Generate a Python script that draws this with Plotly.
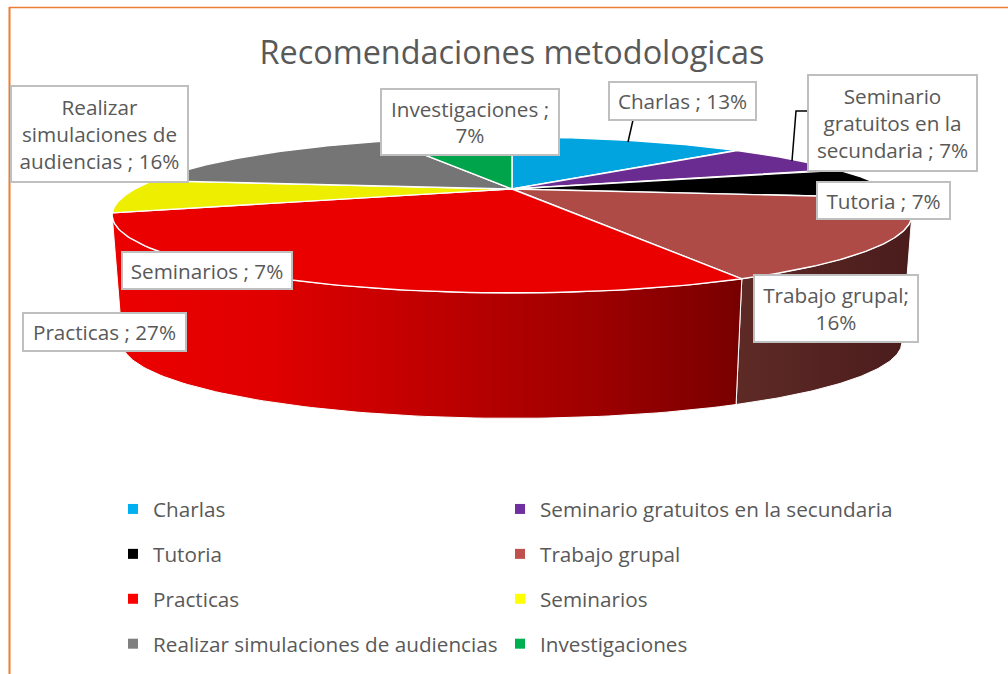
import numpy as np
import plotly.graph_objects as go

categories = ["Charlas", "Seminario gratuitos en la secundaria", "Tutoria", "Trabajo grupal",
              "Practicas", "Seminarios", "Realizar simulaciones de audiencias", "Investigaciones"]
values = [13, 7, 7, 16, 27, 7, 16, 7]
top_colors = ["#02A4E0", "#6A2C91", "#000000", "#AE4B47", "#EB0000", "#EEEE00", "#757575", "#00A44B"]
legend_colors = ["#00B0F0", "#7030A0", "#000000", "#C0504D", "#FF0000", "#FFFF00", "#808080", "#00B050"]
label_texts = ["Charlas ; 13%", "Seminario<br>gratuitos en la<br>secundaria ; 7%", "Tutoria ; 7%",
               "Trabajo grupal;<br>16%", "Practicas ; 27%", "Seminarios ; 7%",
               "Realizar<br>simulaciones de<br>audiencias ; 16%", "Investigaciones ;<br>7%"]
# label boxes: left, right, top, bottom (pixels)
label_boxes = [(609, 756, 82, 120), (808, 977, 75, 171), (817, 950, 182, 219), (754, 918, 275, 342),
               (23, 186, 313, 351), (122, 292, 252, 289), (11, 188, 86, 182), (381, 559, 89, 155)]
side_gradients = {3: ["#5E2A26", "#4A1C1C"], 4: ["#EC0000", "#E00000", "#C00000", "#A00000", "#780000"]}

TXT = "#595959"
FONT = "Open Sans"
CX, CY, A, B, K = 512, 189, 377, 69.3, 1 / 3
DEPTH, SHRINK = 128, 0.975
RIGHT_EDGE, LEFT_EDGE = np.degrees(np.arccos(-1 / 3)), 360 - np.degrees(np.arccos(-1 / 3))


def project(deg, dy=0.0, s=1.0):
    t = np.radians(deg)
    X, Y = np.sin(t), np.cos(t)
    w = 1 + K * Y
    return CX + s * A * X / w, CY + dy - s * B * Y / w


edges = np.concatenate([[0], np.cumsum(values)]) * 360 / sum(values)
fig = go.Figure()

# front walls
for i in side_gradients:
    a0, a1 = max(edges[i], RIGHT_EDGE), min(edges[i + 1], LEFT_EDGE)
    th = np.linspace(a0, a1, 90)
    xt, yt = project(th)
    xb, yb = project(th[::-1], DEPTH, SHRINK)
    stops = side_gradients[i]
    fig.add_trace(go.Scatter(
        x=np.concatenate([xt, xb, xt[:1]]), y=np.concatenate([yt, yb, yt[:1]]),
        mode="lines", fill="toself", line=dict(color="#FFFFFF", width=1),
        fillgradient=dict(type="horizontal",
                          colorscale=[[j / (len(stops) - 1), c] for j, c in enumerate(stops)]),
        showlegend=False, hoverinfo="skip"))

# top faces
for i, name in enumerate(categories):
    th = np.linspace(edges[i], edges[i + 1], 80)
    xa, ya = project(th)
    fig.add_trace(go.Scatter(
        x=np.concatenate([[CX], xa, [CX]]), y=np.concatenate([[CY], ya, [CY]]),
        mode="lines", fill="toself", fillcolor=top_colors[i],
        line=dict(color="#FFFFFF", width=1.4), name=name, showlegend=False,
        hovertemplate=f"{name}: {values[i]}%<extra></extra>"))

# legend entries: two columns, left = even index, right = odd index
for i, name in enumerate(categories):
    fig.add_trace(go.Scatter(
        x=[None], y=[None], mode="markers", name=name,
        marker=dict(symbol="square", size=10, color=legend_colors[i]),
        legend="legend" if i % 2 == 0 else "legend2", legendgroup=name))

annotations = []
for text, (l, r, t, b) in zip(label_texts, label_boxes):
    annotations.append(dict(
        x=(l + r) / 2, y=(t + b) / 2, xref="x", yref="y", text=text, showarrow=False,
        xanchor="center", yanchor="middle", align="center",
        width=r - l - 2, height=b - t - 2, borderpad=0, borderwidth=2,
        bordercolor="#BFBFBF", bgcolor="#FFFFFF", font=dict(family=FONT, size=20.7, color=TXT)))

line = dict(color="#000000", width=1.5)
shapes = [
    dict(type="line", xref="x", yref="y", x0=633, y0=120, x1=628, y1=142, line=line, layer="above"),
    dict(type="path", xref="x", yref="y", path="M 807 111 L 796 111 L 792 161", line=line, layer="above"),
    dict(type="line", xref="x", yref="y", x0=9, y0=7.5, x1=1008, y1=7.5, line=dict(color="#ED7D31", width=1.5), layer="below"),
    dict(type="line", xref="x", yref="y", x0=9.5, y0=7, x1=9.5, y1=674, line=dict(color="#ED7D31", width=2), layer="below"),
]

legend_base = dict(font=dict(family=FONT, size=20.7, color=TXT), bgcolor="rgba(0,0,0,0)", borderwidth=0,
                   tracegroupgap=15, xanchor="left", yanchor="top", y=(674 - 489) / 674,
                   itemclick=False, itemdoubleclick=False)

fig.update_layout(
    width=1008, height=674, autosize=False, margin=dict(l=0, r=0, t=0, b=0),
    paper_bgcolor="#FFFFFF", plot_bgcolor="#FFFFFF",
    title=dict(text="Recomendaciones metodologicas", x=512 / 1008, y=1 - 53 / 674, xanchor="center",
               yanchor="middle", xref="paper", yref="paper", font=dict(family=FONT, size=32.4, color=TXT)),
    xaxis=dict(range=[0, 1008], visible=False, fixedrange=True),
    yaxis=dict(range=[674, 0], visible=False, fixedrange=True),
    legend=dict(x=113 / 1008, **legend_base),
    legend2=dict(x=500 / 1008, **legend_base),
    annotations=annotations, shapes=shapes, hovermode="closest",
)
fig.write_html("out.html", config={"displayModeBar": False},
               post_script="document.body.style.margin='0';document.documentElement.style.overflow='hidden';")
